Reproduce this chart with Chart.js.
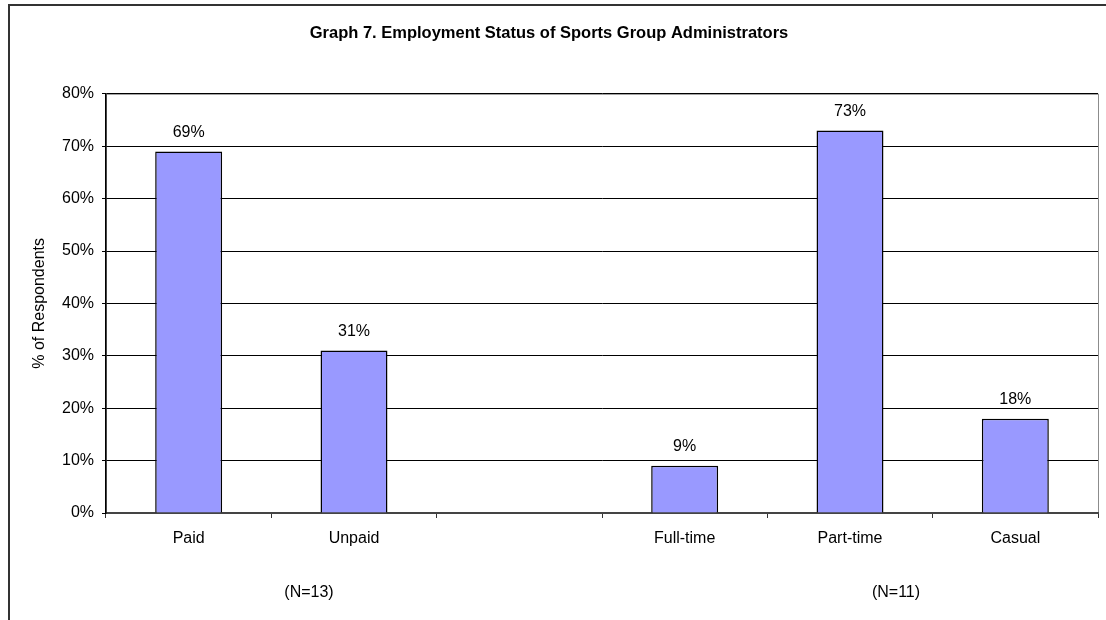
<!DOCTYPE html>
<html>
<head>
<meta charset="utf-8">
<script src="https://cdn.jsdelivr.net/npm/chart.js@4"></script>
<style>
  html, body { margin: 0; padding: 0; background: #fff; overflow: hidden; }
  #wrap { position: absolute; left: 0; top: 0; width: 1106px; height: 620px; }
  #frame { position: absolute; left: 8px; top: 4px; width: 1200px; height: 700px; border: 2px solid #333; box-sizing: border-box; pointer-events: none; }
</style>
</head>
<body>
<div id="wrap">
  <canvas id="employmentStatus" width="1106" height="620"></canvas>
  <div id="frame"></div>
</div>
<script>
var categories = ['Paid', 'Unpaid', '', 'Full-time', 'Part-time', 'Casual'];
var percentRespondents = [69, 31, null, 9, 73, 18];
var yTicks = [0, 10, 20, 30, 40, 50, 60, 70, 80];
var sampleNotes = [
  { text: '(N=13)', x: 309 },
  { text: '(N=11)', x: 896 }
];

var fontFamily = '"Liberation Sans", Arial, sans-serif';

// grey box round the plot area, drawn before the axes
var plotBorder = {
  id: 'plotBorder',
  beforeDraw: function(chart) {
    var a = chart.chartArea, ctx = chart.ctx;
    ctx.save();
    ctx.strokeStyle = '#8c8c8c';
    ctx.lineWidth = 1;
    ctx.strokeRect(a.left + 0.5, a.top + 0.5, a.right - a.left, a.bottom - a.top);
    ctx.restore();
  }
};

// value labels above bars and the (N=..) notes
var barLabels = {
  id: 'barLabels',
  afterDatasetsDraw: function(chart) {
    var ctx = chart.ctx;
    var meta = chart.getDatasetMeta(0);
    ctx.save();
    ctx.font = '16px ' + fontFamily;
    ctx.fillStyle = '#000';
    ctx.textAlign = 'center';
    ctx.textBaseline = 'bottom';
    meta.data.forEach(function(bar, i) {
      var v = percentRespondents[i];
      if (v === null) return;
      ctx.fillText(v + '%', bar.x, bar.y - 11);
    });
    ctx.textBaseline = 'middle';
    sampleNotes.forEach(function(n) {
      ctx.fillText(n.text, n.x, 593);
    });
    ctx.restore();
  }
};

var el_employmentStatus = document.getElementById('employmentStatus').getContext('2d');

var employmentStatus = new Chart(el_employmentStatus, {
  type: 'bar',
  data: {
    labels: categories,
    datasets: [{
      label: 'Employment status',
      data: percentRespondents,
      backgroundColor: '#9999ff',
      borderColor: '#000',
      borderWidth: 1.5,
      categoryPercentage: 1,
      barPercentage: 0.405
    }]
  },
  options: {
    responsive: false,
    animation: false,
    layout: { padding: { left: 0, right: 8, top: 0, bottom: 0 } },
    plugins: {
      legend: { display: false },
      tooltip: { enabled: false },
      title: {
        display: true,
        text: 'Graph 7. Employment Status of Sports Group Administrators',
        color: '#000',
        font: { family: fontFamily, size: 16.5, weight: 'bold' },
        padding: { top: 24, bottom: 50 }
      }
    },
    scales: {
      x: {
        offset: true,
        grid: { display: true, drawOnChartArea: false, offset: true, tickLength: 5, color: '#333' },
        border: { color: '#444', width: 2 },
        ticks: { color: '#000', font: { family: fontFamily, size: 16 }, padding: 11, maxRotation: 0 },
        afterFit: function(scale) { scale.height = 107; }
      },
      y: {
        min: 0,
        max: 80,
        afterBuildTicks: function(scale) {
          scale.ticks = yTicks.map(function(v) { return { value: v }; });
        },
        grid: { color: '#000', lineWidth: 1, tickLength: 4 },
        border: { color: '#000', width: 1.5 },
        ticks: {
          color: '#000',
          font: { family: fontFamily, size: 16 },
          padding: 8,
          callback: function(v) { return v + '%'; }
        },
        title: {
          display: true,
          text: '% of Respondents',
          color: '#000',
          font: { family: fontFamily, size: 16 },
          padding: { top: 30, bottom: 0 }
        },
        afterFit: function(scale) { scale.width = 106; }
      }
    }
  },
  plugins: [plotBorder, barLabels]
});
</script>
</body>
</html>
